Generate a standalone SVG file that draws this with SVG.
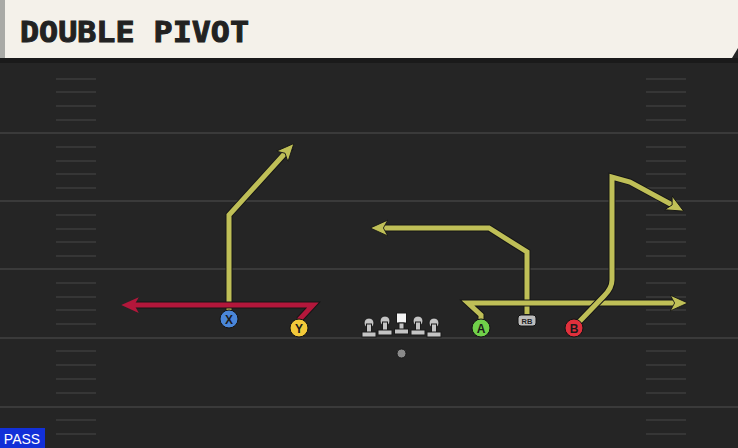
<svg xmlns="http://www.w3.org/2000/svg" width="738" height="448" viewBox="0 0 738 448">
<defs>
<style>
.yl{stroke:#3a3a3a;stroke-width:2}
.hs{stroke:#363636;stroke-width:2}
.rt-o{fill:none;stroke:#161616;stroke-width:7;stroke-linejoin:miter;stroke-linecap:butt}
.rt{fill:none;stroke:#bfbf57;stroke-width:5;stroke-linejoin:miter}
.rt-red{fill:none;stroke:#b3173b;stroke-width:5;stroke-linejoin:miter}
.lbl{font-family:"Liberation Sans",Arial,sans-serif;font-weight:bold;font-size:12px;text-anchor:middle;fill:#1a1a1a}
.ol{fill:#c4c4c4;stroke:#1a1a1a;stroke-width:1}
</style>
<marker id="ay" viewBox="0 0 10 10" refX="5" refY="5" markerWidth="3.5" markerHeight="3.5" orient="auto" markerUnits="strokeWidth">
<path d="M0,0.5 L10,5 L0,9.5 L2.5,5 Z" fill="#bfbf57" stroke="#161616" stroke-width="0.5"/>
</marker>
<marker id="ar" viewBox="0 0 10 10" refX="5" refY="5" markerWidth="3.5" markerHeight="3.5" orient="auto" markerUnits="strokeWidth">
<path d="M0,0.5 L10,5 L0,9.5 L2.5,5 Z" fill="#b3173b"/>
</marker>
</defs>
<rect width="738" height="448" fill="#252525"/>
<g id="field">
<line class="yl" x1="0" y1="133" x2="738" y2="133"/>
<line class="yl" x1="0" y1="201" x2="738" y2="201"/>
<line class="yl" x1="0" y1="269" x2="738" y2="269"/>
<line class="yl" x1="0" y1="338" x2="738" y2="338"/>
<line class="yl" x1="0" y1="407" x2="738" y2="407"/>
<path class="hs" d="M56,79H96M56,92H96M56,106H96M56,120H96M56,147H96M56,161H96M56,174H96M56,188H96M56,215H96M56,229H96M56,242H96M56,256H96M56,283H96M56,297H96M56,310H96M56,324H96M56,351H96M56,365H96M56,379H96M56,393H96M56,420H96M56,434H96"/>
<path class="hs" d="M646,79H686M646,92H686M646,106H686M646,120H686M646,147H686M646,161H686M646,174H686M646,188H686M646,215H686M646,229H686M646,242H686M646,256H686M646,283H686M646,297H686M646,310H686M646,324H686M646,351H686M646,365H686M646,379H686M646,393H686M646,420H686M646,434H686"/>
</g>
<g id="header">
<rect x="0" y="58" width="738" height="5" fill="#1a1a1a"/>
<path d="M0,0H738V48L732,58H0Z" fill="#f4f1ea"/>
<rect x="0" y="0" width="5" height="58" fill="#a9aaa6"/>
<text x="20" y="42" font-family="'DejaVu Sans Mono','Liberation Mono',monospace" font-weight="bold" font-size="29" fill="#222" stroke="#222" stroke-width="1" textLength="229" lengthAdjust="spacingAndGlyphs">DOUBLE PIVOT</text>
</g>
<g id="connectors">
<path class="rt-o" d="M229,311V215L291,147"/>
<path class="rt" d="M229,311V215L288,150" marker-end="url(#ay)"/>
<path class="rt-o" d="M299,320L313,305H129"/>
<path class="rt-red" d="M299,320L313,305H130" marker-end="url(#ar)"/>
<path class="rt-o" d="M527,314V252L489,228H378"/>
<path class="rt" d="M527,314V252L489,228H379" marker-end="url(#ay)"/>
<path class="rt-o" d="M481,320V315L468,303H681"/>
<path class="rt" d="M481,320V315L468,303H679" marker-end="url(#ay)"/>
<path class="rt-o" d="M579,322L604,296Q612,288 612,280V177L630,182L678,208"/>
<path class="rt" d="M579,322L604,296Q612,288 612,280V177L630,182L676,207" marker-end="url(#ay)"/>
</g>
<g id="X"><circle cx="229" cy="319" r="9" fill="#4a86d8" stroke="#141414" stroke-width="1"/><text class="lbl" x="229" y="323.5">X</text></g>
<g id="Y"><circle cx="299" cy="328" r="9" fill="#f2c93a" stroke="#141414" stroke-width="1"/><text class="lbl" x="299" y="332.5">Y</text></g>
<g id="A"><circle cx="481" cy="328" r="9" fill="#70d04a" stroke="#141414" stroke-width="1"/><text class="lbl" x="481" y="332.5">A</text></g>
<g id="B"><circle cx="574" cy="328" r="9" fill="#e0303c" stroke="#141414" stroke-width="1"/><text class="lbl" x="574" y="332.5">B</text></g>
<g id="RB"><rect x="518" y="315" width="18" height="11" rx="3" fill="#bdbdbd" stroke="#141414" stroke-width="1"/><text x="527" y="323.5" font-family="'Liberation Sans',Arial,sans-serif" font-size="7.5" font-weight="bold" text-anchor="middle" fill="#222">RB</text></g>
<g id="line">
<g><circle class="ol" cx="369" cy="323" r="5"/><rect class="ol" x="366.5" y="324" width="5" height="9"/><rect class="ol" x="362" y="332" width="14" height="5"/></g>
<g><circle class="ol" cx="385" cy="321" r="5"/><rect class="ol" x="382.5" y="322" width="5" height="9"/><rect class="ol" x="378" y="330" width="14" height="5"/></g>
<g><rect x="396.5" y="313" width="10" height="10" fill="#f4f4f4" stroke="#1a1a1a"/><rect class="ol" x="399" y="323" width="5" height="7"/><rect class="ol" x="394.5" y="329" width="14" height="5"/></g>
<g><circle class="ol" cx="418" cy="321" r="5"/><rect class="ol" x="415.5" y="322" width="5" height="9"/><rect class="ol" x="411" y="330" width="14" height="5"/></g>
<g><circle class="ol" cx="434" cy="323" r="5"/><rect class="ol" x="431.5" y="324" width="5" height="9"/><rect class="ol" x="427" y="332" width="14" height="5"/></g>
</g>
<g id="QB"><circle cx="401.5" cy="353.5" r="4.5" fill="#8a8a8a" stroke="#1a1a1a" stroke-width="1"/></g>
<g id="pass"><rect x="0" y="428" width="45" height="20" fill="#1230d8"/><text x="22" y="444" font-family="'Liberation Sans',Arial,sans-serif" font-size="14" fill="#fff" text-anchor="middle">PASS</text></g>
</svg>
